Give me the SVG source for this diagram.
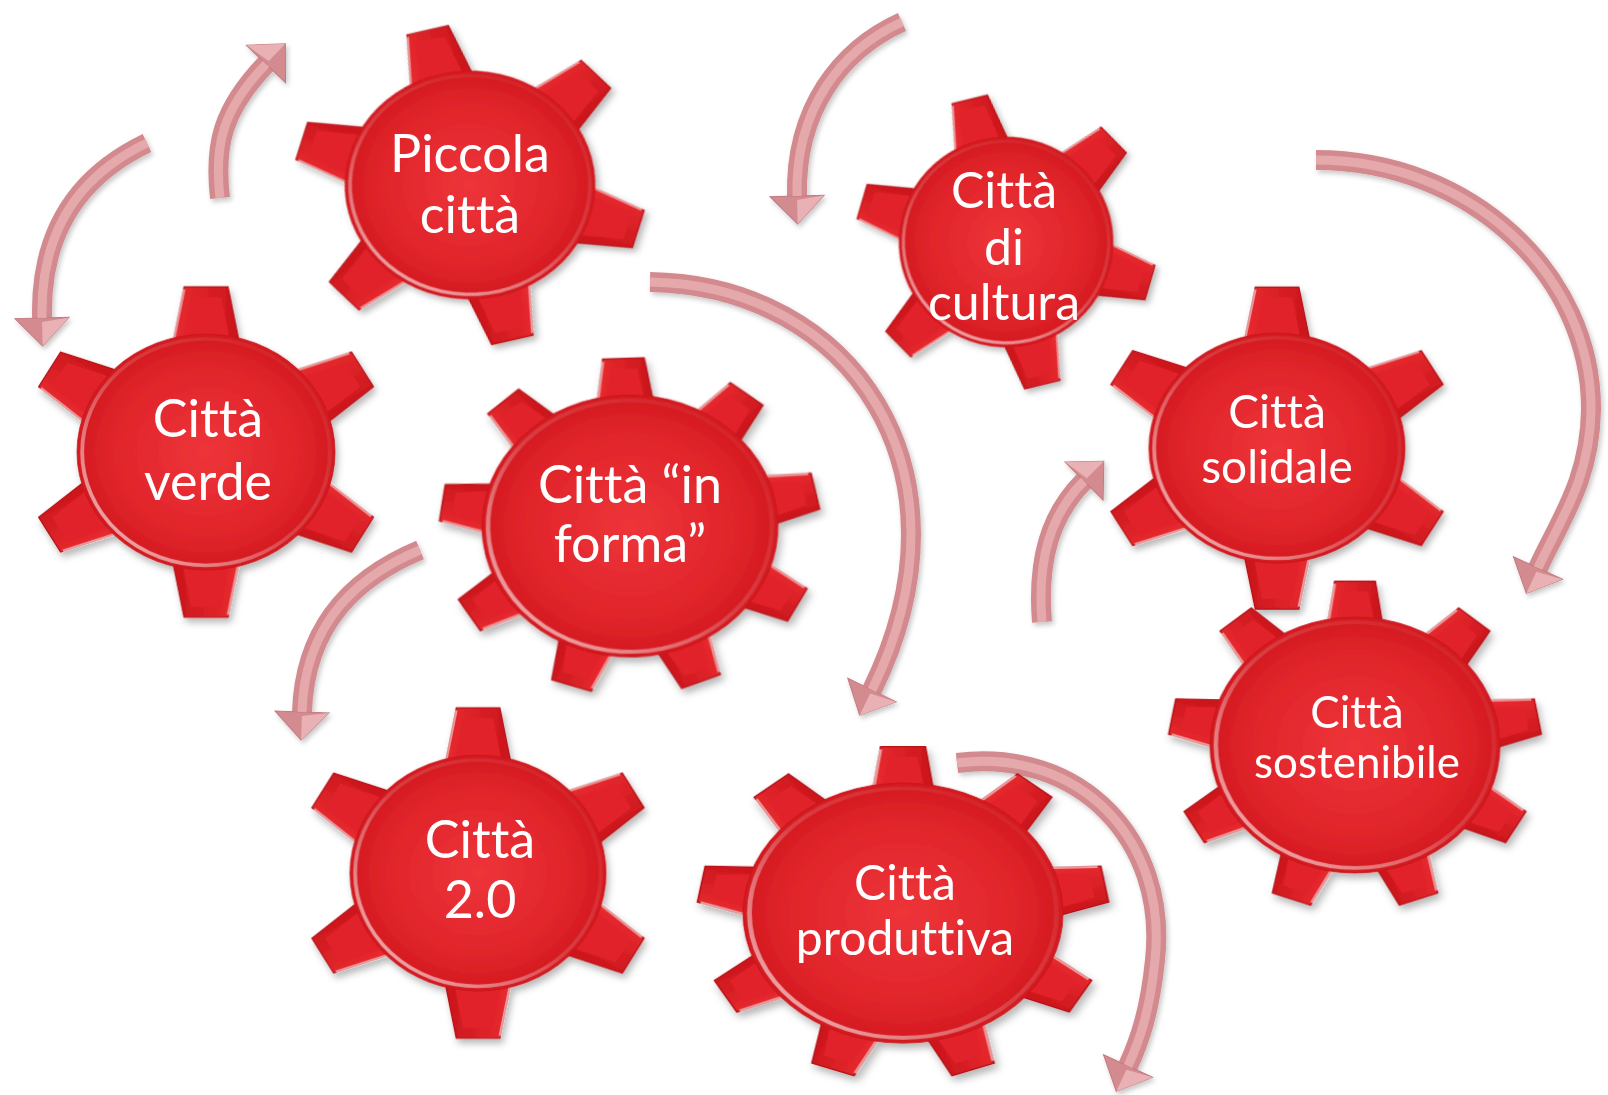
<svg xmlns="http://www.w3.org/2000/svg" xmlns:xlink="http://www.w3.org/1999/xlink" width="1608" height="1095" viewBox="0 0 1608 1095">
<style>
.lbl{font-family:Lato,"Liberation Sans",sans-serif;fill:#ffffff;text-anchor:middle;font-variant-ligatures:none;font-feature-settings:"liga" 0,"clig" 0}
.shaft{fill:none;stroke:#d38a8f;stroke-width:20;marker-end:url(#head)}
.shaftHi{fill:none;stroke:#e5a9ac;stroke-width:9}
</style>
<defs>
 <radialGradient id="bodyGrad" cx="0.5" cy="0.5" r="0.5">
  <stop offset="0" stop-color="#ee353a"/>
  <stop offset="0.75" stop-color="#e0242a"/>
  <stop offset="1" stop-color="#d21a20"/>
 </radialGradient>
 <linearGradient id="toothGrad" x1="0" y1="0" x2="1" y2="0">
  <stop offset="0" stop-color="#ea2c31"/>
  <stop offset="1" stop-color="#c9151b"/>
 </linearGradient>
 <linearGradient id="rimGrad" x1="1" y1="0" x2="0" y2="1">
  <stop offset="0" stop-color="#ffffff" stop-opacity="0"/>
  <stop offset="0.5" stop-color="#ffffff" stop-opacity="0.15"/>
  <stop offset="1" stop-color="#ffffff" stop-opacity="0.75"/>
 </linearGradient>
 <filter id="shadow" x="-20%" y="-20%" width="140%" height="140%">
  <feDropShadow dx="2" dy="4" stdDeviation="3" flood-color="#000000" flood-opacity="0.28"/>
 </filter>
 <filter id="ashadow" x="-20%" y="-20%" width="140%" height="140%">
  <feDropShadow dx="2" dy="3" stdDeviation="2.5" flood-color="#000000" flood-opacity="0.22"/>
 </filter>
 <marker id="head" viewBox="-1 -30 32 60" refX="0" refY="0" markerWidth="32" markerHeight="60" markerUnits="userSpaceOnUse" orient="auto">
  <polygon points="0,-27 28,0 0,27" fill="#d48b90" stroke="#c27a80" stroke-width="1"/>
  <polygon points="0,-27 28,0 4,0" fill="#e9b1b4"/>
 </marker>
 <g id="tooth6">
  <polygon points="-27,-86 -17,-140 17,-140 27,-86" fill="url(#toothGrad)" stroke="#b51218" stroke-width="1"/>
  <polygon points="-19,-90 -12,-131 12,-131 19,-90" fill="#e2242a"/>
  <line x1="-26" y1="-90" x2="-17" y2="-138" stroke="#ffffff" stroke-opacity="0.55" stroke-width="2"/>
 </g>
 <g id="tooth9">
  <polygon points="-20,-88 -14,-128 14,-128 20,-88" fill="url(#toothGrad)" stroke="#b51218" stroke-width="1"/>
  <polygon points="-14,-92 -9,-120 9,-120 14,-92" fill="#e2242a"/>
  <line x1="-19" y1="-92" x2="-14" y2="-126" stroke="#ffffff" stroke-opacity="0.55" stroke-width="2"/>
 </g>
 <g id="gear6">
  <use href="#tooth6"/>
  <use href="#tooth6" transform="rotate(60)"/>
  <use href="#tooth6" transform="rotate(120)"/>
  <use href="#tooth6" transform="rotate(180)"/>
  <use href="#tooth6" transform="rotate(240)"/>
  <use href="#tooth6" transform="rotate(300)"/>
  <circle r="100" fill="url(#bodyGrad)" stroke="#c8161c" stroke-width="0.6"/>
  <circle r="96" fill="none" stroke="url(#rimGrad)" stroke-width="3"/>
 </g>
 <g id="gear9">
  <use href="#tooth9"/>
  <use href="#tooth9" transform="rotate(40)"/>
  <use href="#tooth9" transform="rotate(80)"/>
  <use href="#tooth9" transform="rotate(120)"/>
  <use href="#tooth9" transform="rotate(160)"/>
  <use href="#tooth9" transform="rotate(200)"/>
  <use href="#tooth9" transform="rotate(240)"/>
  <use href="#tooth9" transform="rotate(280)"/>
  <use href="#tooth9" transform="rotate(320)"/>
  <circle r="100" fill="url(#bodyGrad)" stroke="#c8161c" stroke-width="0.6"/>
  <circle r="96" fill="none" stroke="url(#rimGrad)" stroke-width="3"/>
 </g>
</defs>
<rect width="1608" height="1095" fill="#ffffff"/>

<g id="connectors" filter="url(#ashadow)">
 <path class="shaft" d="M147,143 C80,175 40,230 42,318"/>
 <path class="shaftHi" d="M147,143 C80,175 40,230 42,318"/>
 <path class="shaft" d="M220,198 C214,145 222,110 266,64"/>
 <path class="shaftHi" d="M220,198 C214,145 222,110 266,64"/>
 <path class="shaft" d="M650,282 C850,285 980,470 872,690"/>
 <path class="shaftHi" d="M650,282 C850,285 980,470 872,690"/>
 <path class="shaft" d="M420,550 C360,575 305,620 302,712"/>
 <path class="shaftHi" d="M420,550 C360,575 305,620 302,712"/>
 <path class="shaft" d="M902,22 C840,50 795,110 797,196"/>
 <path class="shaftHi" d="M902,22 C840,50 795,110 797,196"/>
 <path class="shaft" d="M1316,160 C1470,160 1592,275 1591,410 C1590,480 1560,520 1538,568"/>
 <path class="shaftHi" d="M1316,160 C1470,160 1592,275 1591,410 C1590,480 1560,520 1538,568"/>
 <path class="shaft" d="M1042,622 C1037,560 1050,515 1084,481"/>
 <path class="shaftHi" d="M1042,622 C1037,560 1050,515 1084,481"/>
 <path class="shaft" d="M957,763 C1080,748 1168,840 1155,960 C1150,1010 1140,1040 1128,1066"/>
 <path class="shaftHi" d="M957,763 C1080,748 1168,840 1155,960 C1150,1010 1140,1040 1128,1066"/>
</g>

<g id="node-piccola-citta">
 <use href="#gear6" filter="url(#shadow)" transform="translate(470,185) scale(1.25,1.14) rotate(-14)"/>
 <text class="lbl" font-size="52"><tspan x="470" y="172">Piccola</tspan><tspan x="470" y="233">città</tspan></text>
</g>
<g id="node-citta-verde">
 <use href="#gear6" filter="url(#shadow)" transform="translate(206,452) scale(1.29,1.18)"/>
 <text class="lbl" font-size="52"><tspan x="208" y="437">Città</tspan><tspan x="208" y="500">verde</tspan></text>
</g>
<g id="node-citta-in-forma">
 <use href="#gear9" filter="url(#shadow)" transform="translate(630,526) scale(1.48,1.31) rotate(-2)"/>
 <text class="lbl" font-size="52"><tspan x="630" y="503">Città “in</tspan><tspan x="630" y="562">forma”</tspan></text>
</g>
<g id="node-citta-2-0">
 <use href="#gear6" filter="url(#shadow)" transform="translate(478,873) scale(1.28,1.18)"/>
 <text class="lbl" font-size="52"><tspan x="480" y="858">Città</tspan><tspan x="480" y="918">2.0</tspan></text>
</g>
<g id="node-citta-di-cultura">
 <use href="#gear6" filter="url(#shadow)" transform="translate(1006,242) scale(1.07,1.05) rotate(-14)"/>
 <text class="lbl" font-size="50"><tspan x="1004" y="208">Città</tspan><tspan x="1004" y="265">di</tspan><tspan x="1004" y="320">cultura</tspan></text>
</g>
<g id="node-citta-produttiva">
 <use href="#gear9" filter="url(#shadow)" transform="translate(903,913) scale(1.6,1.3)"/>
 <text class="lbl" font-size="48"><tspan x="905" y="900">Città</tspan><tspan x="905" y="955">produttiva</tspan></text>
</g>
<g id="node-citta-solidale">
 <use href="#gear6" filter="url(#shadow)" transform="translate(1277,448) scale(1.28,1.15)"/>
 <text class="lbl" font-size="46"><tspan x="1277" y="428">Città</tspan><tspan x="1277" y="483">solidale</tspan></text>
</g>
<g id="node-citta-sostenibile">
 <use href="#gear9" filter="url(#shadow)" transform="translate(1355,745) scale(1.45,1.28)"/>
 <text class="lbl" font-size="44"><tspan x="1357" y="728">Città</tspan><tspan x="1357" y="778">sostenibile</tspan></text>
</g>
</svg>
